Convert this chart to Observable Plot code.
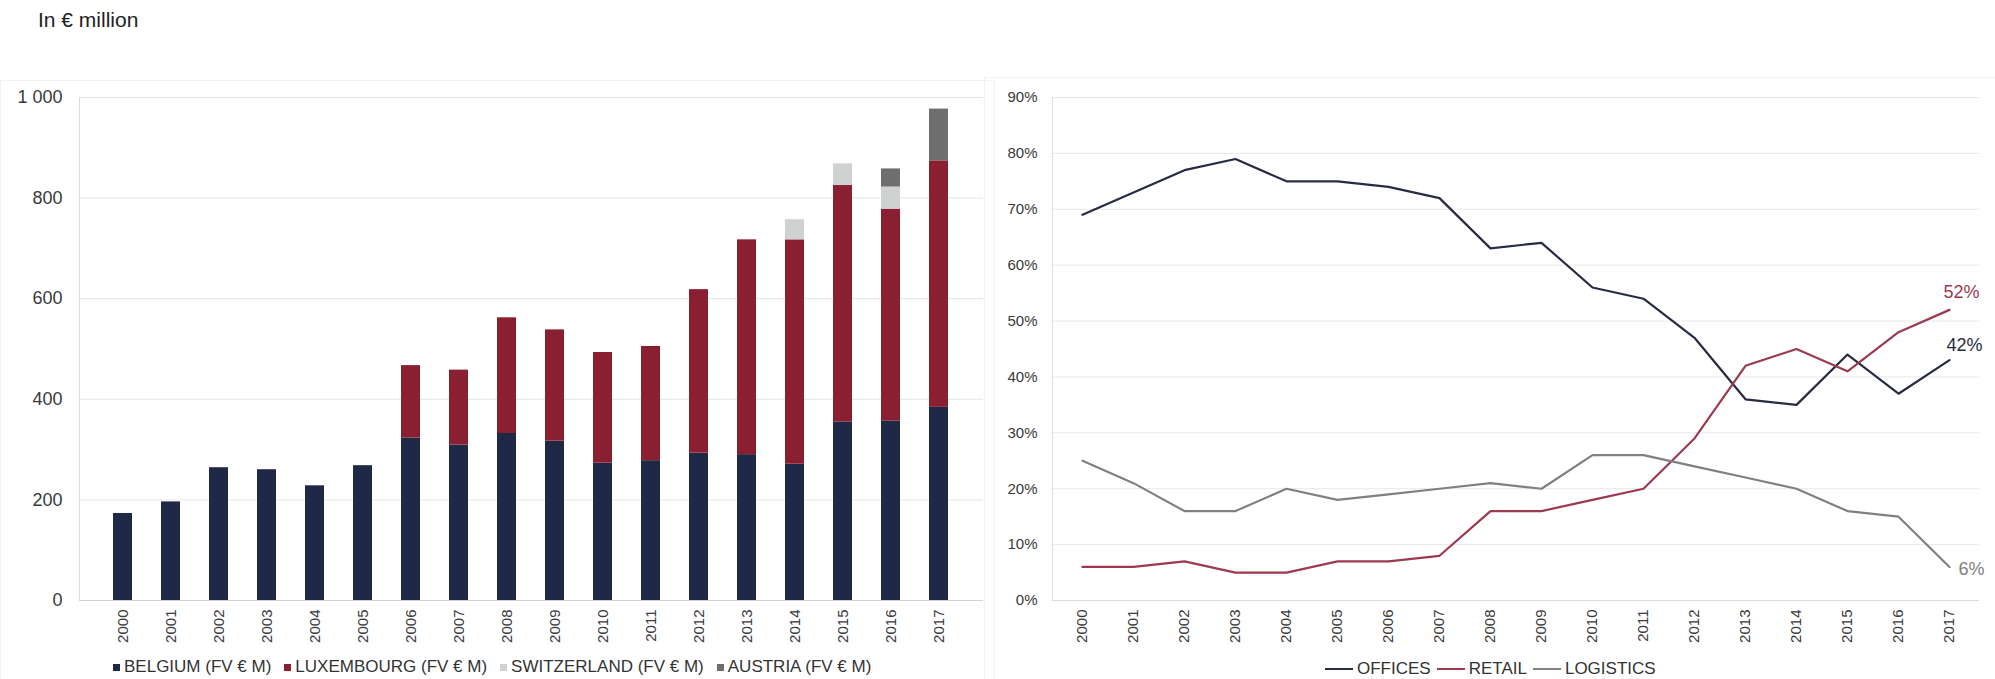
<!DOCTYPE html>
<html>
<head>
<meta charset="utf-8">
<script src="https://cdn.jsdelivr.net/npm/d3@7"></script>
<script src="https://cdn.jsdelivr.net/npm/@observablehq/plot@0.6"></script>
<style>
  html, body { margin: 0; padding: 0; background: #fff; overflow: hidden; }
  body { width: 1995px; height: 679px; position: relative; font-family: "Liberation Sans", Arial, sans-serif; color: #333; }
  #title { position: absolute; left: 38px; top: 9px; font-size: 21px; line-height: 21px; color: #222; }
  #left { position: absolute; left: 0; top: 0; }
  #right { position: absolute; left: 995px; top: 0; }
  .legend { position: absolute; display: flex; align-items: center; font-size: 17px; line-height: 18px; color: #333; white-space: nowrap; }
  .legend .item { display: flex; align-items: center; }
  .sq { display: inline-block; width: 7px; height: 7px; margin-right: 4px; }
  .ln { display: inline-block; width: 28px; height: 2px; margin-right: 4px; }
  #legL { left: 113px; top: 658px; }
  #legL .item { margin-right: 13px; }
  #legR { left: 1325px; top: 660px; }
  #legR .item { margin-right: 6px; }
  .box { position: absolute; border: 1px solid #f2f2f2; pointer-events: none; }
</style>
</head>
<body>
<div class="box" style="left:0px; top:80px; width:993px; height:600px;"></div>
<div class="box" style="left:984px; top:77px; width:1012px; height:603px;"></div>
<div id="title">In € million</div>
<div id="left"></div>
<div id="right"></div>
<div id="legL" class="legend"></div>
<div id="legR" class="legend"></div>
<script>
// ---------- data ----------
const years = ["2000","2001","2002","2003","2004","2005","2006","2007","2008","2009","2010","2011","2012","2013","2014","2015","2016","2017"];

const countryNames = ["BELGIUM (FV € M)", "LUXEMBOURG (FV € M)", "SWITZERLAND (FV € M)", "AUSTRIA (FV € M)"];
const belgium     = [173,196,264,260,228,268,323,309,332,317,273,278,293,290,271,355,357,384];
const luxembourg  = [0,0,0,0,0,0,144,149,230,221,220,227,325,427,446,470,421,490];
const switzerland = [0,0,0,0,0,0,0,0,0,0,0,0,0,0,40,43,44,0];
const austria     = [0,0,0,0,0,0,0,0,0,0,0,0,0,0,0,0,36,103];
const countryColors = ["#1f2844", "#8b1f32", "#d0d2d1", "#6e6e6e"];
const leftTicks = [0,200,400,600,800,1000];

const segmentNames = ["OFFICES", "RETAIL", "LOGISTICS"];
const offices   = [69,73,77,79,75,75,74,72,63,64,56,54,47,36,35,44,37,43];
const retail    = [6,6,7,5,5,7,7,8,16,16,18,20,29,42,45,41,48,52];
const logistics = [25,21,16,16,20,18,19,20,21,20,26,26,24,22,20,16,15,6];
const segmentColors = ["#282c42", "#9c3a50", "#808080"];
const rightTicks = [0,10,20,30,40,50,60,70,80,90];
const endLabels = ["42%", "52%", "6%"];

// ---------- left chart ----------
const countrySeries = [belgium, luxembourg, switzerland, austria];
const barRows = [];
countryNames.forEach((name, k) => years.forEach((yr, i) => barRows.push({year: yr, country: name, value: countrySeries[k][i]})));
const fmtThousands = d => d3.format(",")(d).replace(",", " ");

const left = Plot.plot({
  width: 995, height: 650,
  marginLeft: 79, marginRight: 12, marginTop: 97, marginBottom: 50,
  style: {fontFamily: "Liberation Sans, Arial, sans-serif", background: "transparent"},
  x: {type: "band", domain: years, padding: 0.6, axis: null},
  y: {domain: [0, 1000], axis: null},
  color: {domain: countryNames, range: countryColors},
  marks: [
    Plot.gridY(leftTicks, {stroke: "#e6e6e6", strokeOpacity: 1}),
    Plot.axisY(leftTicks, {tickSize: 0, tickPadding: 17, fontSize: 18, tickFormat: fmtThousands, label: null, color: "#3a3a3a"}),
    Plot.axisX({tickSize: 0, tickPadding: 9, tickRotate: -90, fontSize: 15, label: null, color: "#3a3a3a"}),
    Plot.frame({anchor: "left", stroke: "#dcdcdc"}),
    Plot.ruleY([0], {stroke: "#d4d4d4"}),
    Plot.barY(barRows, {x: "year", y: "value", fill: "country"})
  ]
});
document.getElementById("left").appendChild(left);

// ---------- right chart ----------
const segSeries = [offices, retail, logistics];
const lineRows = [];
segmentNames.forEach((name, k) => years.forEach((yr, i) => lineRows.push({year: yr, seg: name, value: segSeries[k][i]})));
const last = years.length - 1;
const labelRows = segmentNames.map((name, k) => ({year: years[last], value: segSeries[k][last], seg: name, text: endLabels[k]}));

const right = Plot.plot({
  width: 1000, height: 650,
  marginLeft: 57, marginRight: 16, marginTop: 97, marginBottom: 50,
  style: {fontFamily: "Liberation Sans, Arial, sans-serif", background: "transparent"},
  x: {type: "point", domain: years, padding: 0.5, axis: null},
  y: {domain: [0, 90], axis: null},
  color: {domain: segmentNames, range: segmentColors},
  marks: [
    Plot.gridY(rightTicks, {stroke: "#e8e8e8", strokeOpacity: 1}),
    Plot.axisY(rightTicks, {tickSize: 0, tickPadding: 15, fontSize: 15, tickFormat: d => d + "%", label: null, color: "#3a3a3a"}),
    Plot.axisX({tickSize: 0, tickPadding: 9, tickRotate: -90, fontSize: 15, label: null, color: "#3a3a3a"}),
    Plot.frame({anchor: "left", stroke: "#e0e0e0"}),
    Plot.ruleY([0], {stroke: "#dadada"}),
    Plot.line(lineRows, {x: "year", y: "value", stroke: "seg", strokeWidth: 2.2}),
    Plot.text(labelRows.filter(d => d.seg === "RETAIL"), {x: "year", y: "value", text: "text", fill: segmentColors[1], fontSize: 18, textAnchor: "start", dx: -6, dy: -18}),
    Plot.text(labelRows.filter(d => d.seg === "OFFICES"), {x: "year", y: "value", text: "text", fill: segmentColors[0], fontSize: 18, textAnchor: "start", dx: -3, dy: -15}),
    Plot.text(labelRows.filter(d => d.seg === "LOGISTICS"), {x: "year", y: "value", text: "text", fill: segmentColors[2], fontSize: 18, textAnchor: "start", dx: 9, dy: 2})
  ]
});
document.getElementById("right").appendChild(right);

// ---------- legends ----------
const legL = document.getElementById("legL");
countryNames.forEach((name, k) => {
  const it = document.createElement("span"); it.className = "item";
  const sw = document.createElement("span"); sw.className = "sq"; sw.style.background = countryColors[k];
  it.appendChild(sw); it.appendChild(document.createTextNode(name));
  legL.appendChild(it);
});
const legR = document.getElementById("legR");
segmentNames.forEach((name, k) => {
  const it = document.createElement("span"); it.className = "item";
  const sw = document.createElement("span"); sw.className = "ln"; sw.style.background = segmentColors[k];
  it.appendChild(sw); it.appendChild(document.createTextNode(name));
  legR.appendChild(it);
});
</script>
</body>
</html>
